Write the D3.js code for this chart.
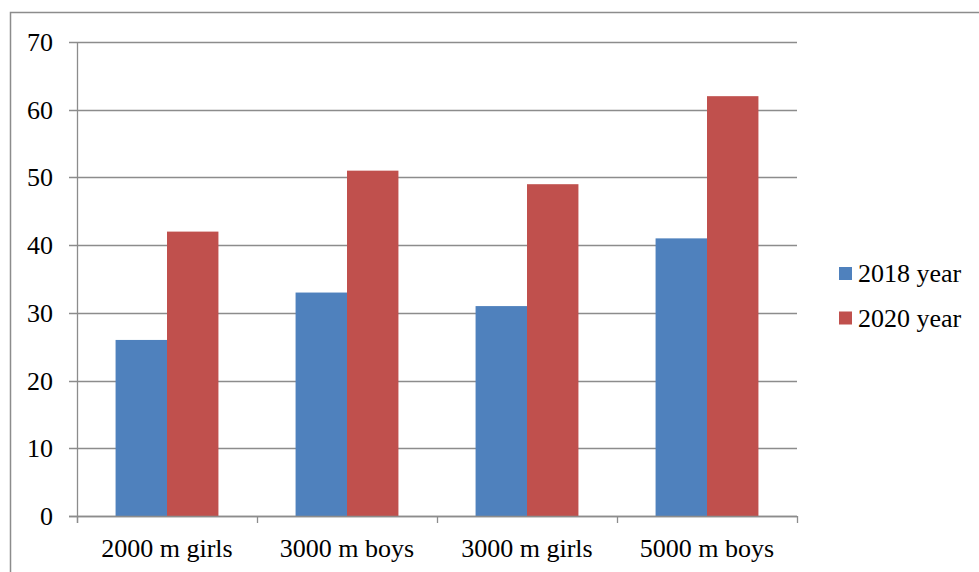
<!DOCTYPE html>
<html><head><meta charset="utf-8">
<script src="https://cdn.jsdelivr.net/npm/d3@7"></script>
<style>body{margin:0;background:#fff}svg{display:block}</style>
</head><body><svg id="c" width="979" height="572"></svg>
<script>
const categories = ["2000 m girls","3000 m boys","3000 m girls","5000 m boys"];
const seriesNames = ["2018 year","2020 year"];
const values2018 = [26,33,31,41];
const values2020 = [42,51,49,62];
const yTicks = [0,10,20,30,40,50,60,70];
const colors = ["#4F81BD","#C0504D"];

const FONT = '"Liberation Serif"';
const svg = d3.select("#c");
const L = 77, R = 797, T = 42, B = 516;
const fs = 26;

// outer border
svg.append("rect").attr("x",10.5).attr("y",12.5).attr("width",1000).attr("height",600)
  .attr("fill","none").attr("stroke","#8c8c8c").attr("stroke-width",1.5);

const x = d3.scaleBand().domain(categories).range([L,R]).paddingInner(0).paddingOuter(0);
const y = d3.scaleLinear().domain([0,70]).range([B,T]);
const bw = x.bandwidth()/3.5;
const x1 = d3.scaleBand().domain(seriesNames).range([bw*0.75, bw*2.75]);

// gridlines
svg.append("g").selectAll("line").data(yTicks).join("line")
  .attr("x1",L-8).attr("x2",R)
  .attr("y1",d=>Math.round(y(d))+0.5).attr("y2",d=>Math.round(y(d))+0.5)
  .attr("stroke","#8c8c8c").attr("stroke-width",1.3);

// bars
const data = categories.map((c,i)=>({c, v:[values2018[i], values2020[i]]}));
const g = svg.append("g");
data.forEach(d=>{
  d.v.forEach((v,j)=>{
    g.append("rect").attr("x",x(d.c)+x1(seriesNames[j])).attr("width",x1.bandwidth())
      .attr("y",y(v)).attr("height",y(0)-y(v)).attr("fill",colors[j]);
  });
});

// axes lines
svg.append("line").attr("x1",L+0.5).attr("x2",L+0.5).attr("y1",T).attr("y2",B+7)
  .attr("stroke","#8c8c8c").attr("stroke-width",1.3);
svg.append("line").attr("x1",L-8).attr("x2",R).attr("y1",B+0.5).attr("y2",B+0.5)
  .attr("stroke","#8c8c8c").attr("stroke-width",1.3);
const xt = categories.map(c=>x(c)).concat([R]);
svg.append("g").selectAll("line").data(xt).join("line")
  .attr("x1",d=>Math.round(d)+0.5).attr("x2",d=>Math.round(d)+0.5).attr("y1",B).attr("y2",B+7)
  .attr("stroke","#8c8c8c").attr("stroke-width",1.3);

// y labels
svg.append("g").selectAll("text").data(yTicks).join("text")
  .style("font-family",FONT)
  .attr("x",53).attr("y",d=>y(d)+9).attr("text-anchor","end").attr("font-size",fs).attr("fill","#000").text(d=>d);

// x labels
svg.append("g").selectAll("text").data(categories).join("text")
  .style("font-family",FONT)
  .attr("x",d=>x(d)+x.bandwidth()/2).attr("y",557).attr("text-anchor","middle").attr("font-size",fs).attr("fill","#000").text(d=>d);

// legend
const lg = svg.append("g");
seriesNames.forEach((s,i)=>{
  const yy = 267 + i*44.5;
  lg.append("rect").attr("x",839).attr("y",yy).attr("width",13).attr("height",13).attr("fill",colors[i]);
  lg.append("text").style("font-family",FONT).attr("x",858).attr("y",yy+15).attr("font-size",fs).attr("fill","#000").text(s);
});
</script></body></html>
